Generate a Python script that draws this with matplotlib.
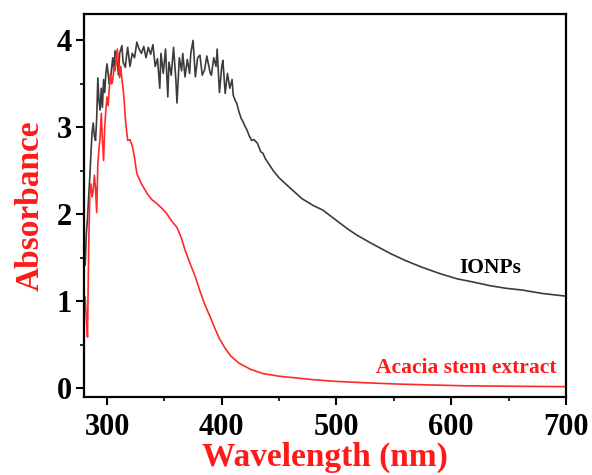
import matplotlib
matplotlib.use("Agg")
import matplotlib.pyplot as plt
from matplotlib.ticker import MultipleLocator

plt.rcParams['font.family'] = ['Liberation Serif', 'DejaVu Serif']
plt.rcParams['font.weight'] = 'bold'

# --- data (wavelength nm, absorbance) ---
ionp_wl = [281, 282, 283, 284, 285, 286, 287, 288, 289, 290,
           291, 292, 293, 294, 295, 296, 297, 298, 299, 300,
           302, 303, 305, 306, 307, 309, 310, 311, 313, 314,
           316, 317, 318, 320, 322, 324, 326, 328, 330, 332,
           334, 336, 338, 340, 342, 344, 346, 347, 349, 351,
           353, 354, 356, 358, 360, 361, 363, 365, 366, 368,
           370, 372, 373, 375, 377, 379, 381, 383, 385, 387,
           388, 390, 391, 393, 395, 396, 398, 400, 401, 403,
           405, 407, 409, 410, 412, 413, 415, 417, 418, 420,
           422, 424, 426, 428, 431, 434, 436, 438, 441, 445,
           450, 459, 470, 480, 488, 500, 510, 518, 530, 547,
           560, 575, 590, 605, 620, 634, 648, 662, 680, 700]
ionp_abs = [1.42, 1.78, 1.95, 2.20, 2.43, 2.70, 2.95, 3.05, 2.90, 2.85,
            3.10, 3.57, 3.30, 3.20, 3.45, 3.23, 3.55, 3.40, 3.62, 3.73,
            3.50, 3.55, 3.80, 3.65, 3.88, 3.73, 3.60, 3.85, 3.94, 3.75,
            3.69, 3.82, 3.92, 3.70, 3.85, 3.80, 3.98, 3.90, 3.85, 3.93,
            3.80, 3.92, 3.84, 3.95, 3.70, 3.79, 3.45, 3.85, 3.62, 3.90,
            3.35, 3.75, 3.60, 3.92, 3.55, 3.28, 3.80, 3.65, 3.85, 3.58,
            3.78, 3.62, 3.85, 4.00, 3.58, 3.80, 3.83, 3.60, 3.66, 3.82,
            3.75, 3.62, 3.60, 3.80, 3.70, 3.90, 3.40, 3.70, 3.77, 3.39,
            3.62, 3.45, 3.55, 3.37, 3.30, 3.28, 3.18, 3.10, 3.08, 3.02,
            2.97, 2.90, 2.85, 2.86, 2.82, 2.72, 2.70, 2.64, 2.58, 2.50,
            2.42, 2.31, 2.18, 2.10, 2.05, 1.93, 1.83, 1.76, 1.67, 1.55,
            1.47, 1.39, 1.32, 1.26, 1.22, 1.18, 1.15, 1.13, 1.09, 1.06]

acacia_wl = [281, 282, 283, 284, 285, 286, 287, 288, 289, 290,
             291, 292, 293, 294, 295, 296, 297, 298, 299, 300,
             301, 302, 303, 304, 305, 306, 307, 308, 309, 310,
             311, 312, 313, 314, 315, 316, 317, 318, 320, 322,
             324, 326, 330, 335, 339, 343, 347, 352, 356, 361,
             365, 368, 372, 377, 381, 385, 390, 394, 398, 403,
             408, 415, 425, 436, 450, 465, 480, 500, 525, 553,
             580, 612, 650, 700]
acacia_abs = [1.05, 0.80, 0.59, 1.60, 2.24, 2.35, 2.20, 2.28, 2.45, 2.30,
              2.02, 2.58, 2.75, 2.90, 3.16, 2.85, 2.62, 3.00, 3.20, 3.35,
              3.25, 3.45, 3.62, 3.50, 3.54, 3.70, 3.65, 3.80, 3.90, 3.75,
              3.57, 3.70, 3.55, 3.45, 3.30, 3.10, 2.97, 2.85, 2.86, 2.79,
              2.65, 2.47, 2.35, 2.24, 2.17, 2.13, 2.08, 2.01, 1.93, 1.85,
              1.72, 1.59, 1.45, 1.28, 1.12, 0.97, 0.82, 0.69, 0.57, 0.46,
              0.37, 0.29, 0.22, 0.17, 0.14, 0.12, 0.10, 0.08, 0.065, 0.05,
              0.04, 0.03, 0.025, 0.02]

fig = plt.figure(figsize=(5.92, 4.75), dpi=100)
ax = fig.add_axes([0.142, 0.164, 0.814, 0.806])

ax.plot(ionp_wl, ionp_abs, color='#3c3c3c', lw=1.2)
ax.plot(acacia_wl, acacia_abs, color='#ff2a2a', lw=1.2)

ax.text(634, 1.38, 'IONPs', color='black', fontsize=15.5,
        fontweight='bold', ha='center', va='center')
ax.text(613, 0.23, 'Acacia stem extract', color='#ff1a1a', fontsize=15.5,
        fontweight='bold', ha='center', va='center')

ax.set_xlim(280, 700)
ax.set_ylim(-0.1, 4.3)
ax.xaxis.set_major_locator(MultipleLocator(100))
ax.xaxis.set_minor_locator(MultipleLocator(50))
ax.yaxis.set_major_locator(MultipleLocator(1))
ax.yaxis.set_minor_locator(MultipleLocator(0.5))

for s in ax.spines.values():
    s.set_linewidth(1.6)
ax.tick_params(which='major', direction='out', length=5.5, width=1.5,
               labelsize=22)
ax.tick_params(axis='x', which='major', pad=6)
ax.tick_params(axis='y', which='major', pad=3)
ax.tick_params(which='minor', direction='out', length=3, width=1.2)
for lab in ax.get_xticklabels() + ax.get_yticklabels():
    lab.set_fontweight('bold')

ax.set_xlabel('Wavelength (nm)', color='#ff1a1a', fontsize=24,
              fontweight='bold', labelpad=0)
ax.set_ylabel('Absorbance', color='#ff1a1a', fontsize=24,
              fontweight='bold', labelpad=8)

fig.savefig('out.png', dpi=100)
